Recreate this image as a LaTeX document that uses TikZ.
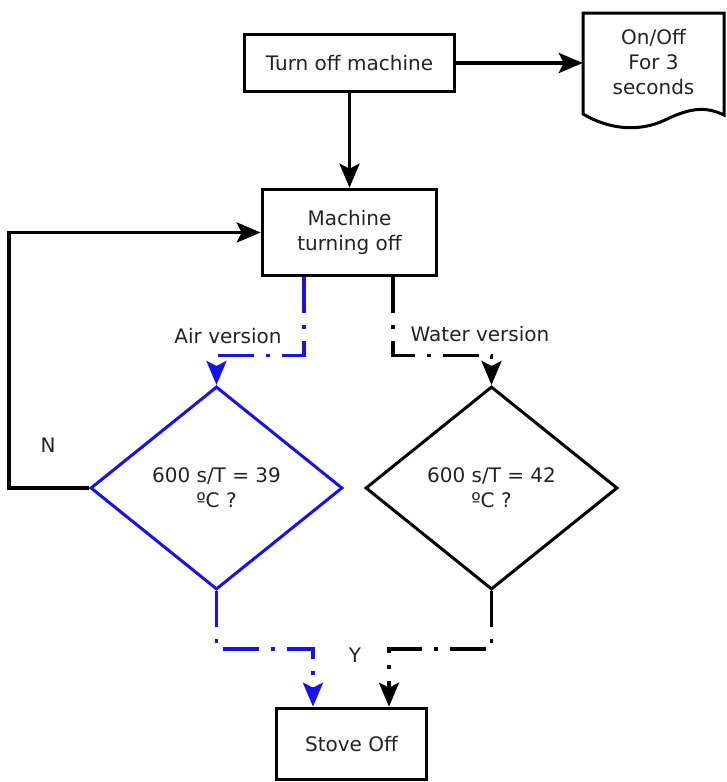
\documentclass[tikz,border=0pt]{standalone}
\usepackage{fontspec}
\setmainfont{DejaVu Sans}
\usetikzlibrary{shapes.geometric,arrows.meta}
\definecolor{lineblue}{RGB}{20,20,230}
\definecolor{txt}{RGB}{35,35,35}
\begin{document}
\begin{tikzpicture}[x=1pt,y=-1pt,
  font=\fontsize{20}{25}\selectfont,
  every node/.style={text=txt},
  procbox/.style={draw=black,line width=3.6pt,rectangle,inner sep=0pt,align=center},
  decision/.style={draw,line width=3pt,diamond,inner sep=0pt,minimum width=252pt,minimum height=203pt,align=center},
  conn/.style={draw=black,line width=3.6pt,-{Stealth[length=24pt,width=20pt,inset=5pt]}},
  ddot/.style={dash pattern=on 36pt off 12pt on 4pt off 12pt},
  lbl/.style={inner sep=1pt}
]
\useasboundingbox (0,0) rectangle (727,782);

% nodes
\node[procbox,minimum width=210pt,minimum height=57pt] (t1) at (349.5,63) {Turn off machine};
\node[inner sep=0pt,minimum width=141pt,minimum height=100pt,align=center] (doc) at (653.5,62) {On/Off\\For 3\\seconds};
\draw[line width=3pt,line join=miter] (583,13) -- (724,13) -- (724,115)
   .. controls (705,106) and (690,108) .. (665,120)
   .. controls (640,132) and (610,130) .. (583,114) -- cycle;
\node[procbox,minimum width=174pt,minimum height=86pt] (m) at (349.5,232.5) {Machine\\turning off};
\node[decision,draw=lineblue] (d1) at (216.5,488) {600 s/T = 39\\ºC ?};
\node[decision,draw=black] (d2) at (491.5,488) {600 s/T = 42\\ºC ?};
\node[procbox,minimum width=150pt,minimum height=71pt] (s) at (351.5,744) {Stove Off};

% labels
\node[lbl] (lair) at (228,336) {Air version};
\node[lbl] (lwat) at (480,334) {Water version};
\node[lbl] (ln) at (48,445) {N};
\node[lbl] (ly) at (355,655) {Y};

% connectors
\draw[conn] (t1.east) -- (t1.east -| doc.west);
\draw[conn] (t1.south) -- (m.north);
\draw[conn,line join=miter] (d1.west) -- ++(-80,0) |- (m.west);

\draw[conn,draw=lineblue,ddot] ([xshift=-45.5pt]m.south) -- ++(0,78) -| (d1.north);
\draw[conn,ddot] ([xshift=43.5pt]m.south) -- ++(0,78) -| (d2.north);

\draw[conn,draw=lineblue,ddot] (d1.south) -- (d1.south |- 0,649) -| ([xshift=-38.5pt]s.north);
\draw[conn,ddot] (d2.south) -- (d2.south |- 0,649) -| ([xshift=37.5pt]s.north);
\end{tikzpicture}
\end{document}
